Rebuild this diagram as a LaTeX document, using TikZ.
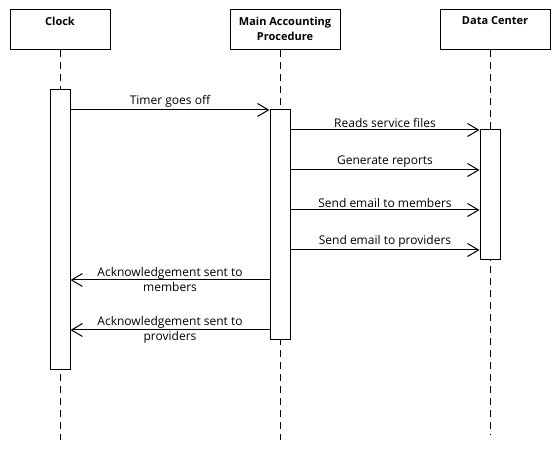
\documentclass[tikz,border=0pt]{standalone}
\usepackage{fontspec}
\setmainfont{Open Sans}
\usetikzlibrary{arrows.meta}

\begin{document}
\begin{tikzpicture}[
    x=1pt, y=-1pt,
    font=\fontsize{12}{15}\selectfont,
    actor/.style={
        draw,
        line width=1pt,
        minimum height=40pt,
        inner sep=0pt,
        label={[font=\fontsize{11}{15}\selectfont\bfseries, align=center, anchor=north, yshift=-4pt]north:#1},
    },
    lifeline/.style={
        draw,
        line width=1pt,
        dash pattern=on 7pt off 5pt,
    },
    activation/.style={
        draw,
        fill=white,
        line width=1pt,
        minimum width=20pt,
        inner sep=0pt,
    },
    msg/.style={
        draw,
        line width=1pt,
        -{Straight Barb[length=11pt, width=13pt]},
    },
    msglabel/.style={
        above,
        inner sep=2pt,
    },
]
\useasboundingbox (0,0) rectangle (560,470);

% participants
\node[actor={Clock}, minimum width=100pt] (clock) at (60,30) {};
\node[actor={Main Accounting\\Procedure}, minimum width=110pt] (main) at (285,30) {};
\node[actor={Data Center}, minimum width=110pt] (data) at (495,30) {};

% lifelines
\coordinate (clockend) at (60,440);
\coordinate (mainend) at (280,440);
\coordinate (dataend) at (490,435);
\draw[lifeline] (clockend |- clock.south) -- (clockend);
\draw[lifeline] (mainend |- main.south) -- (mainend);
\draw[lifeline] (dataend |- data.south) -- (dataend);

% activation bars
\node[activation, minimum height=280pt] (clockact) at (60,230) {};
\node[activation, minimum height=230pt] (mainact) at (280,225) {};
\node[activation, minimum height=130pt] (dataact) at (490,195) {};

% message levels
\coordinate (m1) at (0,110);
\coordinate (m2) at (0,130);
\coordinate (m3) at (0,170);
\coordinate (m4) at (0,210);
\coordinate (m5) at (0,250);
\coordinate (m6) at (0,280);
\coordinate (m7) at (0,330);

\draw[msg] (clockact.east |- m1) -- node[msglabel] {Timer goes off} (mainact.west |- m1);
\draw[msg] (mainact.east |- m2) -- node[msglabel] {Reads service files} (dataact.west |- m2);
\draw[msg] (mainact.east |- m3) -- node[msglabel] {Generate reports} (dataact.west |- m3);
\draw[msg] (mainact.east |- m4) -- node[msglabel] {Send email to members} (dataact.west |- m4);
\draw[msg] (mainact.east |- m5) -- node[msglabel] {Send email to providers} (dataact.west |- m5);
\draw[msg] (mainact.west |- m6) -- node[align=center] {Acknowledgement sent to\\members} (clockact.east |- m6);
\draw[msg] (mainact.west |- m7) -- node[align=center] {Acknowledgement sent to\\providers} (clockact.east |- m7);

\end{tikzpicture}
\end{document}
